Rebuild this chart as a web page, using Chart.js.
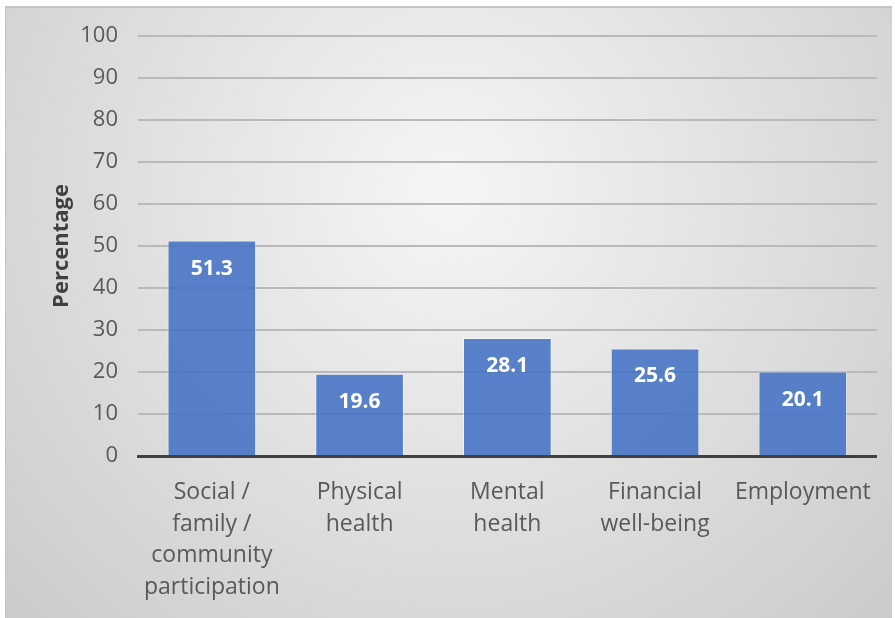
<!DOCTYPE html>
<html>
<head>
<meta charset="utf-8">
<script src="https://cdn.jsdelivr.net/npm/chart.js@4/dist/chart.umd.min.js"></script>
<style>
  html, body { margin: 0; padding: 0; background: #fff; }
  #wrap { position: absolute; left: 5px; top: 6px; width: 887px; height: 612px; border-top: 2px solid #c4c4c4; border-left: 1px solid #c4c4c4; box-sizing: border-box; }
  canvas { display: block; }
</style>
</head>
<body>
<div id="wrap"><canvas id="chart" width="886" height="610"></canvas></div>
<script>
// categories and values
const categories = [
    ["Social /", "family /", "community", "participation"],
    ["Physical", "health"],
    ["Mental", "health"],
    ["Financial", "well-being"],
    ["Employment"]
];
const percentages = [51.3, 19.6, 28.1, 25.6, 20.1];
const yTicks = [0, 10, 20, 30, 40, 50, 60, 70, 80, 90, 100];

const FONT = "'Open Sans', 'Noto Sans', sans-serif";

// radial grey background like the office chart style
const backdrop = {
    id: "backdrop",
    beforeDraw(chart) {
        const { ctx, width, height } = chart;
        const g = ctx.createRadialGradient(width * 0.5, height * 0.3, 20, width * 0.5, height * 0.3, width * 0.72);
        g.addColorStop(0, "#f4f4f4");
        g.addColorStop(1, "#c9c9c9");
        ctx.save();
        ctx.fillStyle = g;
        ctx.fillRect(0, 0, width, height);
        ctx.restore();
    }
};

// value labels inside the top of each bar
const barLabels = {
    id: "barLabels",
    afterDatasetsDraw(chart) {
        const { ctx } = chart;
        const meta = chart.getDatasetMeta(0);
        ctx.save();
        ctx.fillStyle = "#ffffff";
        ctx.font = "bold 21px " + FONT;
        ctx.textAlign = "center";
        ctx.textBaseline = "middle";
        meta.data.forEach((bar, i) => {
            ctx.fillText(percentages[i].toFixed(1), bar.x, bar.y + 28);
        });
        ctx.restore();
    }
};

new Chart(document.getElementById("chart"), {
    type: "bar",
    data: {
        labels: categories,
        datasets: [{
            data: percentages,
            backgroundColor: "rgba(68, 114, 196, 0.88)",
            borderColor: "rgba(255, 255, 255, 0.55)",
            borderWidth: 1,
            barPercentage: 0.6,
            categoryPercentage: 1
        }]
    },
    options: {
        responsive: false,
        animation: false,
        layout: { padding: { top: 28, right: 13, left: 43, bottom: 0 } },
        plugins: {
            legend: { display: false },
            tooltip: { enabled: false }
        },
        scales: {
            x: {
                grid: { display: false, drawTicks: false },
                border: { display: true, color: "#404040", width: 3 },
                ticks: {
                    color: "#595959",
                    font: { family: FONT, size: 23, lineHeight: 1.39 },
                    padding: 20,
                    maxRotation: 0,
                    autoSkip: false
                },
                afterFit(scale) { scale.height = 162; }
            },
            y: {
                min: 0,
                max: 100,
                afterBuildTicks(scale) { scale.ticks = yTicks.map(v => ({ value: v })); },
                grid: { color: "#b9b9b9", lineWidth: 2, drawTicks: false },
                border: { display: false },
                ticks: {
                    color: "#595959",
                    font: { family: FONT, size: 22 },
                    padding: 20
                },
                title: {
                    display: true,
                    text: "Percentage",
                    color: "#404040",
                    font: { family: FONT, size: 22, weight: "bold" },
                    padding: { top: 0, bottom: 4 }
                },
                afterFit(scale) {
                    scale.width = 89;
                    scale.paddingTop = 0;
                    scale.paddingBottom = 0;
                }
            }
        }
    },
    plugins: [backdrop, barLabels]
});
</script>
</body>
</html>
